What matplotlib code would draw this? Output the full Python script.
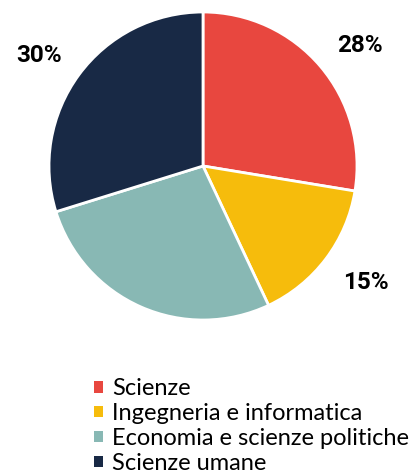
import matplotlib
matplotlib.use('Agg')
import matplotlib.pyplot as plt
import numpy as np
from matplotlib.patches import Patch

labels = ['Scienze', 'Ingegneria e informatica', 'Economia e scienze politiche', 'Scienze umane']
values = [27.6, 15.4, 27.2, 29.8]
colors = ['#E8473F', '#F6BC0C', '#88B8B4', '#182945']

plt.rcParams['font.family'] = ['Lato', 'DejaVu Sans']

fig = plt.figure(figsize=(4.16, 4.75), dpi=100)
r = 154
cx, cy = 203, 166
ax = fig.add_axes([(cx - r) / 416, (475 - cy - r) / 475, 2 * r / 416, 2 * r / 475])

wedges, texts = ax.pie(values, colors=colors, startangle=90, counterclock=False,
                       wedgeprops=dict(edgecolor='white', linewidth=2))
total = sum(values)
# labels outside end, corner of the label box placed on the ray
for w, v in zip(wedges, values):
    th = np.deg2rad((w.theta1 + w.theta2) / 2)
    x, y = 1.14 * np.cos(th), 1.14 * np.sin(th)
    ax.annotate('%.0f%%' % (v / total * 100), (x, y), xytext=(0, 0 if y > 0 else -12.3),
                textcoords='offset points', fontsize=17.5, fontweight='bold',
                family=['Roboto', 'DejaVu Sans'],
                ha='left' if x > 0 else 'right', va='baseline')
ax.set_xlim(-1, 1)
ax.set_ylim(-1, 1)
ax.set_aspect('equal')

handles = [Patch(facecolor=c, edgecolor='none') for c in colors]
fig.legend(handles, labels, loc='upper left', bbox_to_anchor=(84.6 / 416, 1 - 369 / 475),
           frameon=False, fontsize=17, handlelength=0.36, handleheight=0.36,
           handletextpad=0.42, labelspacing=0.16, borderaxespad=0)

fig.savefig('out.png', dpi=100)
